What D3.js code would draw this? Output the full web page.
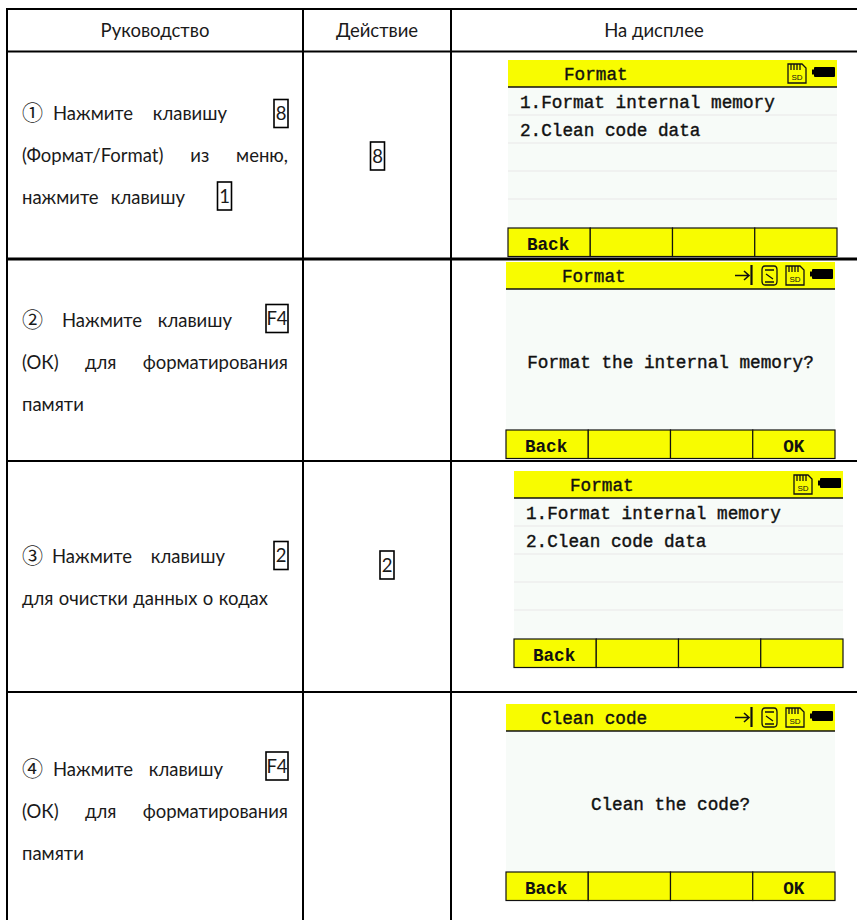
<!DOCTYPE html>
<html>
<head>
<meta charset="utf-8">
<script src="https://cdn.jsdelivr.net/npm/d3@7"></script>
<style>
  html, body { margin: 0; padding: 0; background: #fff; }
  svg { display: block; }
  .doc { font-family: Lato, "Noto Sans", sans-serif; font-size: 18.5px; fill: #1a1a1a; }
  .lcd { font-family: "Liberation Mono", monospace; font-size: 17.7px; fill: #111; stroke: #111; stroke-width: 0.4px; }
  .soft { font-weight: 700; stroke-width: 0; }
</style>
</head>
<body>
<script>
const columns = ['Руководство', 'Действие', 'На дисплее'];
const stepMarks = ['①', '②', '③', '④'];
const stepLines = [
  [['Нажмите', 'клавишу'], ['(Формат/Format)', 'из', 'меню,'], ['нажмите', 'клавишу']],
  [['Нажмите', 'клавишу'], ['(ОК)', 'для', 'форматирования'], ['памяти']],
  [['Нажмите', 'клавишу'], ['для', 'очистки', 'данных', 'о', 'кодах']],
  [['Нажмите', 'клавишу'], ['(ОК)', 'для', 'форматирования'], ['памяти']]
];
const stepKeys = [['8', '1'], ['F4'], ['2'], ['F4']];
const actionKeys = ['8', '', '2', ''];
const screenTitles = ['Format', 'Format', 'Format', 'Clean code'];
const screenLists = [
  ['1.Format internal memory', '2.Clean code data'],
  [],
  ['1.Format internal memory', '2.Clean code data'],
  []
];
const screenPrompts = ['', 'Format the internal memory?', '', 'Clean the code?'];
const softKeys = [['Back', '', '', ''], ['Back', '', '', 'OK'], ['Back', '', '', ''], ['Back', '', '', 'OK']];

const width = 857;
const height = 920;
const svg = d3.select('body').append('svg').attr('width', width).attr('height', height);

const colEdge = d3.scaleOrdinal().domain(d3.range(4)).range([7, 303, 451, 857]);
const rowEdge = d3.scaleOrdinal().domain(d3.range(6)).range([9, 51.5, 259, 461, 692, 920]);
const screenLeft = d3.scaleOrdinal().domain(d3.range(4)).range([508, 506, 514, 506]);
const screenTop = d3.scaleOrdinal().domain(d3.range(4)).range([60, 262, 471, 704]);
// first line centre of each step, where its words start and end, and its key
const stepY = d3.scaleOrdinal().domain(d3.range(4)).range([113, 320, 556, 769]);
const keyY = d3.scaleOrdinal().domain(d3.range(4)).range([113.5, 318.5, 555.5, 766]);
const wordStart = d3.scaleOrdinal().domain(d3.range(4)).range([53, 62, 52, 53]);
const wordEnd = d3.scaleOrdinal().domain(d3.range(4)).range([227, 232, 225, 223]);
const actionX = d3.scaleOrdinal().domain(d3.range(4)).range([377.5, 0, 387, 0]);
const actionY = d3.scaleOrdinal().domain(d3.range(4)).range([156, 0, 565, 0]);
const screenW = 329;
const screenH = 197;

// table grid
const grid = svg.append('g').attr('stroke', '#000');
grid.selectAll('line.h').data(d3.range(5)).join('line')
  .attr('class', 'h')
  .attr('x1', colEdge(0) - 1).attr('x2', width)
  .attr('y1', (d) => rowEdge(d)).attr('y2', (d) => rowEdge(d))
  .attr('stroke-width', (d) => (d === 2 ? 3 : 2));
grid.selectAll('line.v').data(d3.range(3)).join('line')
  .attr('class', 'v')
  .attr('x1', (d) => colEdge(d)).attr('x2', (d) => colEdge(d))
  .attr('y1', rowEdge(0) - 1).attr('y2', height)
  .attr('stroke-width', 2);

// header
svg.selectAll('text.head').data(columns).join('text')
  .attr('class', 'head doc')
  .attr('x', (d, i) => (colEdge(i) + colEdge(i + 1)) / 2)
  .attr('y', 37)
  .attr('text-anchor', 'middle')
  .text((d) => d);

// key in a box, cx and cy are its middle
const keyBox = (g, label, cx, cy) => {
  const w = label.length > 1 ? 22 : 14;
  g.append('rect').attr('x', cx - w / 2).attr('y', cy - 14).attr('width', w).attr('height', 28)
    .attr('fill', 'none').attr('stroke', '#000').attr('stroke-width', 1.6);
  g.append('text').attr('class', 'doc').attr('x', cx).attr('y', cy + 6.5)
    .attr('text-anchor', 'middle').text(label);
};

// stretch the word gaps so the line ends at right
const fit = (t, left, right, n) => {
  if (n < 1) return;
  const extra = (right - left - t.node().getComputedTextLength()) / n;
  t.style('word-spacing', `${extra}px`);
};

const lineGap = 42;
const textLeft = 22;
const textRight = 288;
stepLines.forEach((lines, r) => {
  const g = svg.append('g');
  lines.forEach((words, i) => {
    const cy = stepY(r) + i * lineGap;
    if (i === 0) {
      g.append('text').attr('x', textLeft).attr('y', cy + 7)
        .style('font-family', '"Noto Sans CJK SC"').style('font-size', '21px').attr('fill', '#1a1a1a')
        .text(stepMarks[r]);
      const t = g.append('text').attr('class', 'doc').attr('x', wordStart(r)).attr('y', cy + 6.5).text(words.join(' '));
      fit(t, wordStart(r), wordEnd(r), 1);
      const label = stepKeys[r][0];
      keyBox(g, label, textRight - (label.length > 1 ? 11 : 7), keyY(r));
    } else {
      const t = g.append('text').attr('class', 'doc').attr('x', textLeft).attr('y', cy + 6.5).text(words.join(' '));
      if (r === 0 && i === 2) {
        fit(t, textLeft, 185, 1);
        keyBox(g, stepKeys[r][1], 224.5, cy - 1);
      } else if (r === 2) {
        fit(t, textLeft, 268, words.length - 1);
      } else {
        fit(t, textLeft, textRight, words.length - 1);
      }
    }
  });
  if (actionKeys[r]) keyBox(g, actionKeys[r], actionX(r), actionY(r));
});

// device screens
const yellow = '#f8fc00';
const ink = '#111';
const sdCard = 'M280 4H294L298 8V23H280ZM283 4V10M286 4V10M289 4V10M292 4V10';
const arrow = 'M229 13.5H243M238 9L243 13.5L238 18';
const arrowBar = 'M245.5 3V23';
const cylinder = 'M259 4H268Q271 4 271 8V19Q271 23 268 23H259Q256 23 256 19V8Q256 4 259 4ZM259 8H268M260 12L267 17M259 20H268';

screenTitles.forEach((title, r) => {
  const x = d3.scaleLinear().domain([0, 4]).range([0, screenW]);
  const g = svg.append('g').attr('transform', `translate(${screenLeft(r)},${screenTop(r)})`);
  g.append('rect').attr('width', screenW).attr('height', screenH).attr('fill', '#f7fbf8');
  g.append('rect').attr('width', screenW).attr('height', 27).attr('fill', yellow);
  g.append('line').attr('x1', 0).attr('x2', screenW).attr('y1', 27).attr('y2', 27).attr('stroke', ink).attr('stroke-width', 1.5);
  g.append('text').attr('class', 'lcd').attr('x', title.length > 6 ? 35 : 56).attr('y', 20).text(title);

  // battery and card icons
  g.append('rect').attr('x', 306).attr('y', 7).attr('width', 21).attr('height', 10).attr('rx', 1).attr('fill', '#000');
  g.append('rect').attr('x', 304).attr('y', 9.5).attr('width', 3).attr('height', 5).attr('fill', '#000');
  g.append('path').attr('d', sdCard).attr('fill', 'none').attr('stroke', ink).attr('stroke-width', 1.3);
  g.append('text').attr('x', 289).attr('y', 20).attr('text-anchor', 'middle').attr('font-size', 8).attr('font-family', 'Liberation Sans').attr('fill', ink).text('SD');
  if (screenPrompts[r]) {
    g.append('path').attr('d', arrow).attr('fill', 'none').attr('stroke', ink).attr('stroke-width', 1.6);
    g.append('path').attr('d', arrowBar).attr('fill', 'none').attr('stroke', ink).attr('stroke-width', 2.2);
    g.append('path').attr('d', cylinder).attr('fill', 'none').attr('stroke', ink).attr('stroke-width', 1.3);
  }

  // list rows
  if (screenLists[r].length) {
    g.selectAll('line.sep').data(d3.range(1, 5)).join('line')
      .attr('class', 'sep')
      .attr('x1', 0).attr('x2', screenW)
      .attr('y1', (d) => 27 + d * 28).attr('y2', (d) => 27 + d * 28)
      .attr('stroke', '#eeeeee').attr('stroke-width', 1.5);
    g.selectAll('text.item').data(screenLists[r]).join('text')
      .attr('class', 'item lcd')
      .attr('x', 12)
      .attr('y', (d, i) => 48 + i * 28)
      .text((d) => d);
  }
  if (screenPrompts[r]) {
    g.append('text').attr('class', 'lcd').attr('x', screenW / 2).attr('y', 106).attr('text-anchor', 'middle').text(screenPrompts[r]);
  }

  // soft keys
  const keys = g.append('g').attr('transform', `translate(0,${screenH - 29})`);
  keys.selectAll('rect').data(softKeys[r]).join('rect')
    .attr('x', (d, i) => x(i)).attr('width', x(1)).attr('height', 28.5)
    .attr('fill', yellow).attr('stroke', ink).attr('stroke-width', 1.2);
  keys.selectAll('text').data(softKeys[r]).join('text')
    .attr('class', 'lcd soft')
    .attr('x', (d, i) => x(i) + x(1) / 2 - (i === 0 ? 1 : 0)).attr('y', 21.5)
    .attr('text-anchor', 'middle')
    .text((d) => d);
});
</script>
</body>
</html>
